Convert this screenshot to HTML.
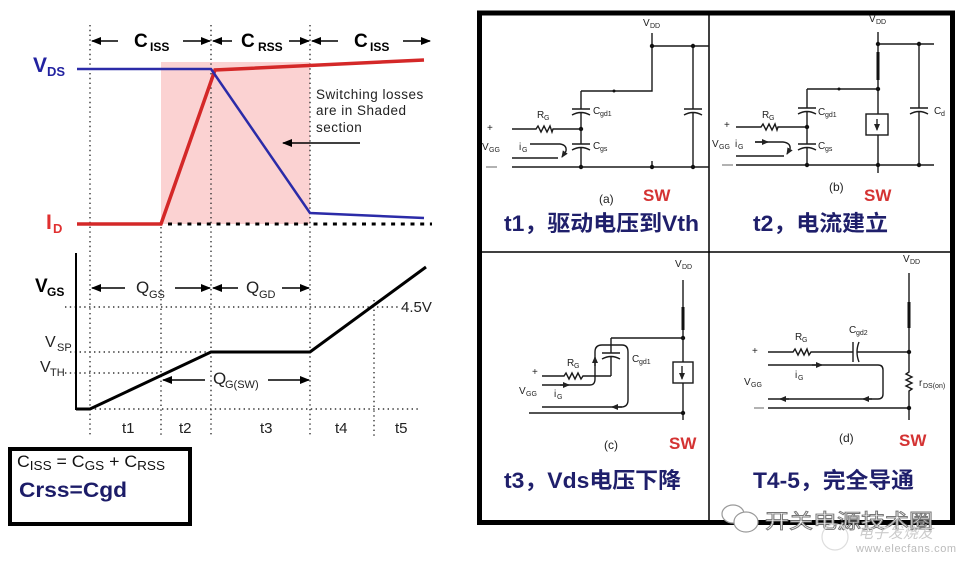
<!DOCTYPE html>
<html><head><meta charset="utf-8"><style>
html,body{margin:0;padding:0;background:#fff;}
svg{display:block}
text{font-family:"Liberation Sans","Noto Sans CJK SC",sans-serif;}
</style></head><body>
<svg width="964" height="564" viewBox="0 0 964 564" xmlns="http://www.w3.org/2000/svg">
<defs>
<marker id="ah" markerWidth="10" markerHeight="8" refX="9" refY="4" orient="auto" markerUnits="userSpaceOnUse"><path d="M0,0 L10,4 L0,8 z" fill="#000"/></marker>
<marker id="sh" markerWidth="7" markerHeight="6" refX="6" refY="3" orient="auto" markerUnits="userSpaceOnUse"><path d="M0,0 L7,3 L0,6 z" fill="#222"/></marker>
</defs>
<rect width="964" height="564" fill="#fff"/>

<!-- ===== LEFT TOP CHART ===== -->
<rect x="161" y="62" width="149" height="162" fill="#fbd2d2"/>
<g stroke="#333" stroke-width="1.4" stroke-dasharray="1.4 3.4" fill="none">
  <line x1="90" y1="25" x2="90" y2="437"/>
  <line x1="211" y1="25" x2="211" y2="437"/>
  <line x1="310" y1="25" x2="310" y2="437"/>
  <line x1="161" y1="227" x2="161" y2="437"/>
  <line x1="374" y1="300" x2="374" y2="437"/>
  <line x1="65" y1="307" x2="400" y2="307"/>
  <line x1="70" y1="352" x2="211" y2="352"/>
  <line x1="65" y1="373" x2="161" y2="373"/>
  <line x1="90" y1="409" x2="420" y2="409"/>
</g>
<!-- top arrows -->
<g stroke="#000" stroke-width="1.6">
  <line x1="118" y1="41" x2="92" y2="41" marker-end="url(#ah)"/>
  <line x1="183" y1="41" x2="210" y2="41" marker-end="url(#ah)"/>
  <line x1="232" y1="41" x2="213" y2="41" marker-end="url(#ah)"/>
  <line x1="289" y1="41" x2="309" y2="41" marker-end="url(#ah)"/>
  <line x1="338" y1="41" x2="312" y2="41" marker-end="url(#ah)"/>
  <line x1="403" y1="41" x2="430" y2="41" marker-end="url(#ah)"/>
  <line x1="360" y1="143" x2="283" y2="143" marker-end="url(#ah)"/>
</g>
<g font-weight="bold" fill="#000">
  <text x="134" y="47" font-size="19">C</text><text x="150" y="51" font-size="12">ISS</text>
  <text x="241" y="47" font-size="19">C</text><text x="258" y="51" font-size="12">RSS</text>
  <text x="354" y="47" font-size="19">C</text><text x="370" y="51" font-size="12">ISS</text>
</g>
<text x="33" y="72" font-size="21" font-weight="bold" fill="#2222a0">V</text>
<text x="47" y="76" font-size="13" font-weight="bold" fill="#2222a0">DS</text>
<text x="46" y="229" font-size="21" font-weight="bold" fill="#e03030">I</text>
<text x="53" y="233" font-size="13" font-weight="bold" fill="#e03030">D</text>
<g font-size="13.5" fill="#222" letter-spacing="0.5">
  <text x="316" y="99">Switching losses</text>
  <text x="316" y="115">are in Shaded</text>
  <text x="316" y="132">section</text>
</g>
<polyline points="77,224 161,224 215,70 424,60" fill="none" stroke="#d42828" stroke-width="3.5"/>
<polyline points="77,69 211,69 310,213 424,218" fill="none" stroke="#2b2ba8" stroke-width="2.5"/>
<line x1="168" y1="224" x2="432" y2="224" stroke="#000" stroke-width="3" stroke-dasharray="4 5.7"/>

<!-- ===== LEFT BOTTOM CHART ===== -->
<line x1="76" y1="253" x2="76" y2="410" stroke="#000" stroke-width="2"/>
<polyline points="76,409 90,409 211,352 310,352 426,267" fill="none" stroke="#000" stroke-width="3"/>
<g stroke="#000" stroke-width="1.6">
  <line x1="125" y1="288" x2="92" y2="288" marker-end="url(#ah)"/>
  <line x1="175" y1="288" x2="210" y2="288" marker-end="url(#ah)"/>
  <line x1="238" y1="288" x2="213" y2="288" marker-end="url(#ah)"/>
  <line x1="282" y1="288" x2="309" y2="288" marker-end="url(#ah)"/>
  <line x1="205" y1="380" x2="163" y2="380" marker-end="url(#ah)"/>
  <line x1="268" y1="380" x2="309" y2="380" marker-end="url(#ah)"/>
</g>
<text x="35" y="292" font-size="19" font-weight="bold">V</text>
<text x="47" y="296" font-size="12" font-weight="bold">GS</text>
<g fill="#222">
  <text x="136" y="293" font-size="17">Q</text><text x="149" y="298" font-size="11">GS</text>
  <text x="246" y="293" font-size="17">Q</text><text x="259" y="298" font-size="11">GD</text>
  <text x="213" y="384" font-size="17">Q</text><text x="225" y="388" font-size="11">G(SW)</text>
  <text x="401" y="312" font-size="15">4.5V</text>
  <text x="45" y="347" font-size="16">V</text><text x="57" y="351" font-size="11">SP</text>
  <text x="40" y="372" font-size="16">V</text><text x="50" y="376" font-size="11">TH</text>
  <text x="122" y="433" font-size="15">t1</text>
  <text x="179" y="433" font-size="15">t2</text>
  <text x="260" y="433" font-size="15">t3</text>
  <text x="335" y="433" font-size="15">t4</text>
  <text x="395" y="433" font-size="15">t5</text>
</g>
<rect x="10" y="449" width="180" height="75" fill="none" stroke="#000" stroke-width="4"/>
<text x="17" y="467" font-size="17" fill="#111" textLength="148" lengthAdjust="spacingAndGlyphs">C<tspan font-size="13" dy="3">ISS</tspan><tspan dy="-3"> = C</tspan><tspan font-size="13" dy="3">GS</tspan><tspan dy="-3"> + C</tspan><tspan font-size="13" dy="3">RSS</tspan></text>
<text x="19" y="497" font-size="21" font-weight="bold" fill="#1c1c68" textLength="108" lengthAdjust="spacingAndGlyphs">Crss=Cgd</text>

<!-- ===== RIGHT BOX ===== -->
<rect x="479.5" y="13" width="473" height="509.5" fill="none" stroke="#000" stroke-width="5"/>
<line x1="709" y1="13" x2="709" y2="522" stroke="#000" stroke-width="1.5"/>
<line x1="479" y1="252" x2="953" y2="252" stroke="#000" stroke-width="1.5"/>

<!-- Panel (a) -->
<g stroke="#1a1a1a" stroke-width="1.4" fill="none">
  <path d="M512 129 H536 L538 126 L541 132 L544 126 L547 132 L550 126 L552 132 L553 129 H581"/>
  <path d="M512 167 H709"/>
  <path d="M581 91 V109 M572 109 H590 M572 115 Q581 110 590 115 M581 113 V144 M572 144 H590 M572 150 Q581 145 590 150 M581 148 V167"/>
  <path d="M581 91 H652 V33"/>
  <path d="M652 46 H709"/>
  <path d="M693 46 V109 M684 109 H702 M684 115 Q693 110 702 115 M693 113 V167"/>
  <path d="M652 161 V167"/>
  <path d="M530 144 H560 Q567 145 566 151 L562 157" marker-end="url(#sh)"/>
  <path d="M512 158 H558"/>
</g>
<line x1="486" y1="167" x2="497" y2="167" stroke="#999" stroke-width="1.5"/>
<g fill="#111"><circle cx="581" cy="129" r="2.2"/><circle cx="581" cy="167" r="2.2"/><circle cx="652" cy="167" r="2.2"/><circle cx="693" cy="167" r="2.2"/><circle cx="652" cy="46" r="2.2"/><circle cx="693" cy="46" r="2.2"/><circle cx="614" cy="91" r="1.5"/></g>
<g fill="#222" font-size="10">
  <text x="643" y="26">V</text><text x="650" y="28" font-size="7">DD</text>
  <text x="537" y="118">R</text><text x="544" y="120" font-size="7">G</text>
  <text x="593" y="114">C</text><text x="600" y="116" font-size="7">gd1</text>
  <text x="593" y="149">C</text><text x="600" y="151" font-size="7">gs</text>
  <text x="487" y="131">+</text>
  <text x="482" y="150">V</text><text x="489" y="152" font-size="7">GG</text>
  <text x="519" y="150">i</text><text x="522" y="152" font-size="7">G</text>
  <text x="599" y="203" font-size="12">(a)</text>
</g>
<text x="643" y="201" font-size="17" font-weight="bold" fill="#d43333">SW</text>
<text x="504" y="231" font-size="22" font-weight="bold" fill="#1f1f6b" textLength="195" lengthAdjust="spacingAndGlyphs">t1，驱动电压到Vth</text>

<!-- Panel (b) -->
<g stroke="#1a1a1a" stroke-width="1.4" fill="none">
  <path d="M878 32 V173"/>
  <path d="M878 44 H934"/>
  <path d="M919 44 V108 M910 108 H928 M910 114 Q919 109 928 114 M919 112 V165"/>
  <path d="M807 89 H878"/>
  <path d="M807 89 V108 M798 108 H816 M798 114 Q807 109 816 114 M807 112 V144 M798 144 H816 M798 150 Q807 145 816 150 M807 148 V165"/>
  <path d="M736 127 H761 L763 124 L766 130 L769 124 L772 130 L775 124 L777 130 L778 127 H807"/>
  <path d="M736 165 H934"/>
  <rect x="866" y="114" width="22" height="21" fill="#fff"/>
  <path d="M755 142 H783 Q791 143 790 149 L787 154" marker-end="url(#sh)"/>
  <path d="M736 156 H784"/>
</g>
<line x1="878" y1="52" x2="878" y2="80" stroke="#111" stroke-width="3"/>
<line x1="877" y1="119" x2="877" y2="130" stroke="#111" stroke-width="1.3" marker-end="url(#sh)"/>
<line x1="755" y1="142" x2="768" y2="142" stroke="#111" stroke-width="1.3" marker-end="url(#sh)"/>
<line x1="722" y1="165" x2="733" y2="165" stroke="#999" stroke-width="1.5"/>
<g fill="#111"><circle cx="807" cy="127" r="2.2"/><circle cx="807" cy="165" r="2.2"/><circle cx="878" cy="165" r="2.2"/><circle cx="919" cy="165" r="2.2"/><circle cx="878" cy="44" r="2.2"/><circle cx="919" cy="44" r="2.2"/><circle cx="878" cy="89" r="2.2"/><circle cx="839" cy="89" r="1.5"/></g>
<g fill="#222" font-size="10">
  <text x="869" y="22">V</text><text x="876" y="24" font-size="7">DD</text>
  <text x="762" y="118">R</text><text x="769" y="120" font-size="7">G</text>
  <text x="818" y="115">C</text><text x="825" y="117" font-size="7">gd1</text>
  <text x="818" y="149">C</text><text x="825" y="151" font-size="7">gs</text>
  <text x="934" y="114">C</text><text x="941" y="116" font-size="7">d</text>
  <text x="724" y="128">+</text>
  <text x="712" y="147">V</text><text x="719" y="149" font-size="7">GG</text>
  <text x="735" y="147">i</text><text x="738" y="149" font-size="7">G</text>
  <text x="829" y="191" font-size="12">(b)</text>
</g>
<text x="864" y="201" font-size="17" font-weight="bold" fill="#d43333">SW</text>
<text x="753" y="231" font-size="22" font-weight="bold" fill="#1f1f6b" textLength="135" lengthAdjust="spacingAndGlyphs">t2，电流建立</text>

<!-- Panel (c) -->
<g stroke="#1a1a1a" stroke-width="1.4" fill="none">
  <path d="M683 280 V420"/>
  <path d="M611 338 H683"/>
  <path d="M611 338 V353 M602 353 H620 M602 359 Q611 354 620 359 M611 357 V376"/>
  <path d="M542 376 H564 L566 373 L569 379 L572 373 L575 379 L578 373 L581 379 L583 376 H611"/>
  <path d="M529 413 H683"/>
  <rect x="673" y="362" width="20" height="21" fill="#fff"/>
  <path d="M542 385 H590 Q595 385 595 379 V352 Q595 345 602 345 H622 Q628 345 628 352 V400 Q628 407 621 407 H542"/>
</g>
<line x1="683" y1="307" x2="683" y2="330" stroke="#111" stroke-width="3"/>
<line x1="682" y1="366" x2="682" y2="379" stroke="#111" stroke-width="1.3" marker-end="url(#sh)"/>
<line x1="560" y1="385" x2="569" y2="385" stroke="#111" stroke-width="1.3" marker-end="url(#sh)"/>
<line x1="595" y1="366" x2="595" y2="357" stroke="#111" stroke-width="1.3" marker-end="url(#sh)"/>
<line x1="622" y1="407" x2="612" y2="407" stroke="#111" stroke-width="1.3" marker-end="url(#sh)"/>
<g fill="#111"><circle cx="683" cy="338" r="2.2"/><circle cx="683" cy="413" r="2.2"/></g>
<g fill="#222" font-size="10">
  <text x="675" y="267">V</text><text x="682" y="269" font-size="7">DD</text>
  <text x="567" y="366">R</text><text x="574" y="368" font-size="7">G</text>
  <text x="632" y="362">C</text><text x="639" y="364" font-size="7">gd1</text>
  <text x="532" y="375">+</text>
  <text x="519" y="394">V</text><text x="526" y="396" font-size="7">GG</text>
  <text x="554" y="397">i</text><text x="557" y="399" font-size="7">G</text>
  <text x="604" y="449" font-size="12">(c)</text>
</g>
<text x="669" y="449" font-size="17" font-weight="bold" fill="#d43333">SW</text>
<text x="504" y="488" font-size="22" font-weight="bold" fill="#1f1f6b" textLength="177" lengthAdjust="spacingAndGlyphs">t3，Vds电压下降</text>

<!-- Panel (d) -->
<g stroke="#1a1a1a" stroke-width="1.4" fill="none">
  <path d="M909 273 V372 L906 374 L912 377 L906 380 L912 383 L906 386 L912 389 L909 391 V420"/>
  <path d="M768 352 H793 L795 349 L798 355 L801 349 L804 355 L807 349 L809 355 L811 352 H853 M853 342 V362 M859 342 Q855 352 859 362 M857 352 H909"/>
  <path d="M768 408 H909"/>
  <path d="M768 365 H878 Q883 365 883 370 V394 Q883 399 878 399 H768"/>
</g>
<line x1="909" y1="302" x2="909" y2="328" stroke="#111" stroke-width="3"/>
<line x1="812" y1="365" x2="822" y2="365" stroke="#111" stroke-width="1.3" marker-end="url(#sh)"/>
<line x1="872" y1="399" x2="863" y2="399" stroke="#111" stroke-width="1.3" marker-end="url(#sh)"/>
<line x1="789" y1="399" x2="780" y2="399" stroke="#111" stroke-width="1.3" marker-end="url(#sh)"/>
<line x1="754" y1="408" x2="764" y2="408" stroke="#999" stroke-width="1.5"/>
<g fill="#111"><circle cx="909" cy="352" r="2.2"/><circle cx="909" cy="408" r="2.2"/></g>
<g fill="#222" font-size="10">
  <text x="903" y="262">V</text><text x="910" y="264" font-size="7">DD</text>
  <text x="795" y="340">R</text><text x="802" y="342" font-size="7">G</text>
  <text x="849" y="333">C</text><text x="856" y="335" font-size="7">gd2</text>
  <text x="919" y="386">r</text><text x="923" y="388" font-size="7">DS(on)</text>
  <text x="752" y="354">+</text>
  <text x="744" y="385">V</text><text x="751" y="387" font-size="7">GG</text>
  <text x="795" y="378">i</text><text x="798" y="380" font-size="7">G</text>
  <text x="839" y="442" font-size="12">(d)</text>
</g>
<text x="899" y="446" font-size="17" font-weight="bold" fill="#d43333">SW</text>
<text x="753" y="488" font-size="22" font-weight="bold" fill="#1f1f6b" textLength="161" lengthAdjust="spacingAndGlyphs">T4-5，完全导通</text>

<!-- watermark -->
<g fill="#fff" stroke="#9a9a9a" stroke-width="1.2">
  <ellipse cx="733" cy="514" rx="11" ry="9"/>
  <ellipse cx="746" cy="522" rx="12" ry="10"/>
</g>
<text x="765" y="528" font-size="20" fill="#fff" stroke="#777" stroke-width="0.9" textLength="168" lengthAdjust="spacingAndGlyphs">开关电源技术圈</text>
<circle cx="835" cy="537" r="13" fill="none" stroke="#ddd" stroke-width="1.2"/>
<text x="858" y="538" font-size="15" font-style="italic" fill="#ccc">电子发烧友</text>
<text x="856" y="552" font-size="11" fill="#bbb" letter-spacing="0.6">www.elecfans.com</text>
</svg>
</body></html>
